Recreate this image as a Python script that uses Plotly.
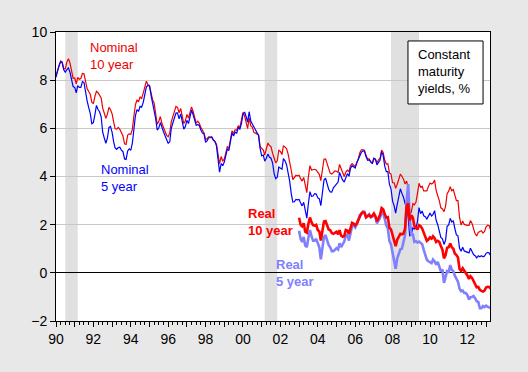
import plotly.graph_objects as go
import pandas as pd

# Monthly constant maturity yields, %
nominal_10 = [
    8.21, 8.47, 8.59, 8.79, 8.76, 8.48, 8.47, 8.75, 8.89, 8.72, 8.39, 8.08,
    8.09, 7.85, 8.11, 8.04, 8.07, 8.28, 8.27, 7.90, 7.65, 7.53, 7.42, 7.09,
    7.03, 7.34, 7.54, 7.48, 7.39, 7.26, 6.84, 6.59, 6.42, 6.59, 6.87, 6.77,
    6.60, 6.26, 5.98, 5.97, 6.04, 5.96, 5.81, 5.68, 5.36, 5.33, 5.72, 5.77,
    5.75, 5.97, 6.48, 6.97, 7.18, 7.10, 7.30, 7.24, 7.46, 7.74, 7.96, 7.81,
    7.78, 7.47, 7.20, 7.06, 6.63, 6.17, 6.28, 6.49, 6.20, 6.04, 5.93, 5.71,
    5.65, 5.81, 6.27, 6.51, 6.74, 6.91, 6.87, 6.64, 6.83, 6.53, 6.20, 6.30,
    6.58, 6.42, 6.69, 6.89, 6.71, 6.49, 6.22, 6.30, 6.21, 6.03, 5.88, 5.81,
    5.54, 5.57, 5.65, 5.64, 5.65, 5.50, 5.46, 5.34, 4.81, 4.53, 4.83, 4.65,
    4.72, 5.00, 5.23, 5.18, 5.54, 5.90, 5.79, 5.94, 5.92, 6.11, 6.03, 6.28,
    6.66, 6.52, 6.26, 5.99, 6.44, 6.10, 6.05, 5.83, 5.80, 5.74, 5.72, 5.24,
    5.16, 5.10, 4.89, 5.14, 5.39, 5.28, 5.24, 4.97, 4.73, 4.57, 4.65, 5.09,
    5.04, 4.91, 5.28, 5.21, 5.16, 4.93, 4.65, 4.26, 3.87, 3.94, 4.05, 4.03,
    4.05, 3.90, 3.81, 3.96, 3.57, 3.33, 3.98, 4.45, 4.27, 4.29, 4.30, 4.27,
    4.15, 4.08, 3.83, 4.35, 4.72, 4.73, 4.50, 4.28, 4.13, 4.10, 4.19, 4.23,
    4.22, 4.17, 4.50, 4.34, 4.14, 4.00, 4.18, 4.26, 4.20, 4.46, 4.54, 4.47,
    4.42, 4.57, 4.72, 4.99, 5.11, 5.11, 5.09, 4.88, 4.72, 4.73, 4.60, 4.56,
    4.76, 4.72, 4.56, 4.69, 4.75, 5.10, 5.00, 4.67, 4.52, 4.53, 4.15, 4.10,
    3.74, 3.74, 3.51, 3.68, 3.88, 4.10, 4.01, 3.89, 3.69, 3.81, 3.53, 2.42,
    2.52, 2.87, 2.82, 2.93, 3.29, 3.72, 3.56, 3.59, 3.40, 3.39, 3.40, 3.59,
    3.73, 3.69, 3.73, 3.85, 3.42, 3.20, 3.01, 2.70, 2.65, 2.54, 2.76, 3.29,
    3.39, 3.58, 3.41, 3.46, 3.17, 3.00, 3.00, 2.30, 1.98, 2.15, 2.01, 1.98,
    1.97, 1.97, 2.17, 2.05, 1.80, 1.62, 1.53, 1.68, 1.72, 1.75, 1.65, 1.72,
    1.91, 1.98, 1.96, 1.76,
]

nominal_5 = [
    8.12, 8.42, 8.60, 8.77, 8.74, 8.43, 8.33, 8.44, 8.51, 8.33, 8.02, 7.73,
    7.70, 7.47, 7.77, 7.70, 7.70, 7.94, 7.91, 7.43, 7.14, 6.87, 6.62, 6.19,
    6.24, 6.58, 6.95, 6.78, 6.69, 6.48, 5.84, 5.60, 5.38, 5.60, 6.04, 6.08,
    5.83, 5.43, 5.19, 5.13, 5.20, 5.22, 5.09, 5.03, 4.73, 4.71, 5.06, 5.15,
    5.09, 5.40, 5.94, 6.52, 6.78, 6.70, 6.91, 6.88, 7.08, 7.40, 7.72, 7.78,
    7.76, 7.37, 7.05, 6.86, 6.41, 5.93, 6.01, 6.24, 6.00, 5.86, 5.69, 5.51,
    5.38, 5.44, 5.99, 6.22, 6.46, 6.63, 6.64, 6.39, 6.60, 6.27, 5.97, 6.07,
    6.33, 6.20, 6.54, 6.76, 6.57, 6.38, 6.12, 6.16, 6.11, 5.93, 5.80, 5.77,
    5.42, 5.49, 5.61, 5.61, 5.63, 5.52, 5.46, 5.27, 4.62, 4.18, 4.54, 4.45,
    4.60, 4.91, 5.14, 5.08, 5.44, 5.81, 5.68, 5.84, 5.80, 6.03, 5.97, 6.19,
    6.58, 6.68, 6.50, 6.26, 6.69, 6.30, 6.18, 6.06, 5.93, 5.78, 5.70, 5.17,
    4.86, 4.89, 4.64, 4.76, 4.93, 4.81, 4.76, 4.57, 4.12, 3.91, 3.97, 4.39,
    4.34, 4.30, 4.74, 4.65, 4.49, 4.19, 3.81, 3.29, 2.94, 2.95, 3.05, 3.03,
    3.05, 2.90, 2.78, 2.93, 2.52, 2.27, 2.87, 3.37, 3.18, 3.19, 3.29, 3.27,
    3.12, 3.07, 2.79, 3.39, 3.85, 3.93, 3.69, 3.47, 3.36, 3.35, 3.53, 3.60,
    3.71, 3.77, 4.17, 4.00, 3.85, 3.77, 3.98, 4.12, 4.01, 4.33, 4.45, 4.39,
    4.35, 4.57, 4.72, 4.90, 5.00, 5.07, 5.04, 4.82, 4.67, 4.69, 4.58, 4.53,
    4.75, 4.71, 4.48, 4.59, 4.67, 5.03, 4.88, 4.43, 4.20, 4.20, 3.67, 3.49,
    2.98, 2.78, 2.48, 2.84, 3.15, 3.49, 3.30, 3.14, 2.88, 2.73, 2.29, 1.52,
    1.60, 1.87, 1.82, 1.86, 2.13, 2.71, 2.46, 2.57, 2.37, 2.33, 2.23, 2.34,
    2.48, 2.36, 2.43, 2.58, 2.18, 2.00, 1.76, 1.47, 1.41, 1.18, 1.35, 1.93,
    1.99, 2.26, 2.11, 2.17, 1.84, 1.58, 1.54, 1.02, 0.90, 1.06, 0.91, 0.89,
    0.84, 0.83, 1.02, 0.89, 0.76, 0.71, 0.62, 0.71, 0.67, 0.71, 0.67, 0.70,
    0.81, 0.85, 0.82, 0.71,
]

real_10 = [
    2.29, 1.99, 1.93, 2.06, 1.71, 1.67, 2.03, 2.30, 2.10, 1.98, 1.96, 1.99,
    1.78, 1.71, 1.34, 1.85, 2.13, 2.15, 2.00, 1.80, 1.77, 1.65, 1.62, 1.67,
    1.70, 1.60, 1.77, 1.55, 1.50, 1.53, 1.78, 1.76, 1.62, 1.85, 2.08, 2.05,
    1.97, 2.05, 2.19, 2.40, 2.47, 2.51, 2.49, 2.31, 2.36, 2.40, 2.33, 2.36,
    2.46, 2.34, 2.14, 2.27, 2.40, 2.69, 2.64, 2.44, 2.29, 2.31, 1.87, 1.80,
    1.57, 1.33, 1.11, 1.38, 1.48, 1.62, 1.60, 1.63, 1.84, 2.75, 2.89, 2.17,
    2.39, 2.29, 1.96, 1.86, 1.80, 1.98, 1.94, 1.84, 1.64, 1.49, 1.33, 1.38,
    1.47, 1.42, 1.52, 1.44, 1.28, 1.33, 1.29, 1.11, 0.96, 0.60, 0.73, 1.04,
    1.06, 1.22, 1.07, 1.00, 0.80, 0.74, 0.64, 0.16, 0.08, 0.19, 0.10, -0.01,
    -0.11, -0.25, -0.14, -0.21, -0.34, -0.50, -0.60, -0.59, -0.71, -0.75, -0.78, -0.74,
    -0.61, -0.58, -0.59, -0.65,
]

real_5 = [
    1.75, 1.40, 1.29, 1.49, 1.13, 1.07, 1.44, 1.78, 1.52, 1.33, 1.33, 1.41,
    1.24, 1.05, 0.56, 1.11, 1.49, 1.57, 1.37, 1.15, 1.06, 0.90, 0.90, 0.98,
    1.02, 0.97, 1.23, 1.07, 1.18, 1.30, 1.55, 1.58, 1.34, 1.61, 1.92, 1.97,
    1.88, 2.01, 2.19, 2.40, 2.43, 2.55, 2.54, 2.30, 2.36, 2.43, 2.30, 2.34,
    2.46, 2.33, 2.05, 2.18, 2.28, 2.54, 2.47, 2.24, 1.96, 1.85, 1.32, 1.18,
    0.84, 0.51, 0.17, 0.60, 0.76, 0.98, 1.00, 1.25, 1.57, 2.96, 3.69, 2.23,
    1.59, 1.59, 1.29, 1.31, 1.26, 1.30, 1.25, 1.19, 0.95, 0.74, 0.54, 0.48,
    0.42, 0.40, 0.55, 0.47, 0.34, 0.45, 0.27, 0.06, 0.14, -0.42, -0.18, 0.07,
    0.04, 0.32, 0.13, 0.07, -0.12, -0.26, -0.37, -0.66, -0.76, -0.74, -0.84, -0.84,
    -0.92, -1.11, -1.01, -1.00, -0.96, -1.05, -1.18, -1.21, -1.47, -1.47, -1.38, -1.42,
    -1.36, -1.41, -1.43, -1.45,
]

nominal_start = "1990-01-01"
real_start = "2003-01-01"

recessions = [("1990-07-01", "1991-03-01"),
              ("2001-03-01", "2001-11-01"),
              ("2007-12-01", "2009-06-01")]

tick_years = list(range(1990, 2014))
tick_labels = [f"{y % 100:02d}" if y % 2 == 0 else "" for y in tick_years]
y_ticks = [-2, 0, 2, 4, 6, 8, 10]

nom_dates = pd.date_range(nominal_start, periods=len(nominal_10), freq="MS")
real_dates = pd.date_range(real_start, periods=len(real_10), freq="MS")

FONT = "Liberation Sans, Arial, sans-serif"

fig = go.Figure()
fig.add_trace(go.Scatter(x=nom_dates, y=nominal_10, mode="lines",
                         line=dict(color="#ee0000", width=1.2), name="Nominal 10 year"))
fig.add_trace(go.Scatter(x=nom_dates, y=nominal_5, mode="lines",
                         line=dict(color="#0000ff", width=1.2), name="Nominal 5 year"))
fig.add_trace(go.Scatter(x=real_dates, y=real_5, mode="lines",
                         line=dict(color="#8080ff", width=2.6), name="Real 5 year"))
fig.add_trace(go.Scatter(x=real_dates, y=real_10, mode="lines",
                         line=dict(color="#ff0000", width=2.6), name="Real 10 year"))

for a, b in recessions:
    fig.add_shape(type="rect", xref="x", yref="paper", x0=a, x1=b, y0=0, y1=1,
                  fillcolor="#e0e0e0", line=dict(width=0), layer="below")

# legend-like box
fig.add_shape(type="rect", xref="paper", yref="paper", x0=0.811, x1=0.984,
              y0=0.751, y1=0.969, fillcolor="white", line=dict(color="black", width=1),
              layer="above")
fig.add_annotation(xref="paper", yref="paper", x=0.830, y=0.955, xanchor="left", yanchor="top",
                   text="Constant<br>maturity<br>yields, %", showarrow=False, align="left",
                   font=dict(family=FONT, size=13, color="black"))

labels = [
    ("Nominal<br>10 year", 0.0737, 0.979, "#ee0000", False),
    ("Nominal<br>5 year", 0.099, 0.557, "#0000ff", False),
    ("Real<br>10 year", 0.438, 0.405, "#ff0000", True),
    ("Real<br>5 year", 0.502, 0.228, "#8080ff", True),
]
for txt, xp, yp, col, bold in labels:
    t = f"<b>{txt}</b>" if bold else txt
    fig.add_annotation(xref="paper", yref="paper", x=xp, y=yp, xanchor="left", yanchor="top",
                       text=t, showarrow=False, align="left",
                       font=dict(family=FONT, size=13, color=col))

fig.update_layout(
    width=528, height=372, autosize=False,
    margin=dict(l=56, r=38, t=32, b=51),
    paper_bgcolor="#e8e8e8", plot_bgcolor="white",
    showlegend=False,
    font=dict(family=FONT, size=14, color="black"),
)
fig.update_xaxes(
    type="date", range=["1990-01-01", "2013-03-18"],
    tickmode="array", tickvals=[f"{y}-01-01" for y in tick_years], ticktext=tick_labels,
    ticks="outside", ticklen=5, tickcolor="black", tickwidth=1,
    minor=dict(dtick="M3", tick0="1990-01-01", ticks="outside", ticklen=3,
               tickcolor="black", showgrid=False),
    showgrid=False, showline=True, mirror=True, linecolor="black", linewidth=1,
    tickfont=dict(size=14, color="black"), zeroline=False,
)
fig.update_yaxes(
    range=[-2, 10], tickmode="array", tickvals=y_ticks,
    ticks="outside", ticklen=5, tickcolor="black",
    showgrid=True, gridcolor="#c8c8c8", gridwidth=1,
    zeroline=True, zerolinecolor="black", zerolinewidth=1,
    showline=True, mirror=True, linecolor="black", linewidth=1,
    tickfont=dict(size=14, color="black"),
)

fig.write_html(
    "out.html",
    config={"displayModeBar": False},
    post_script="document.body.style.margin='0';document.body.style.overflow='hidden';"
                "document.body.style.background='#e8e8e8';",
)
